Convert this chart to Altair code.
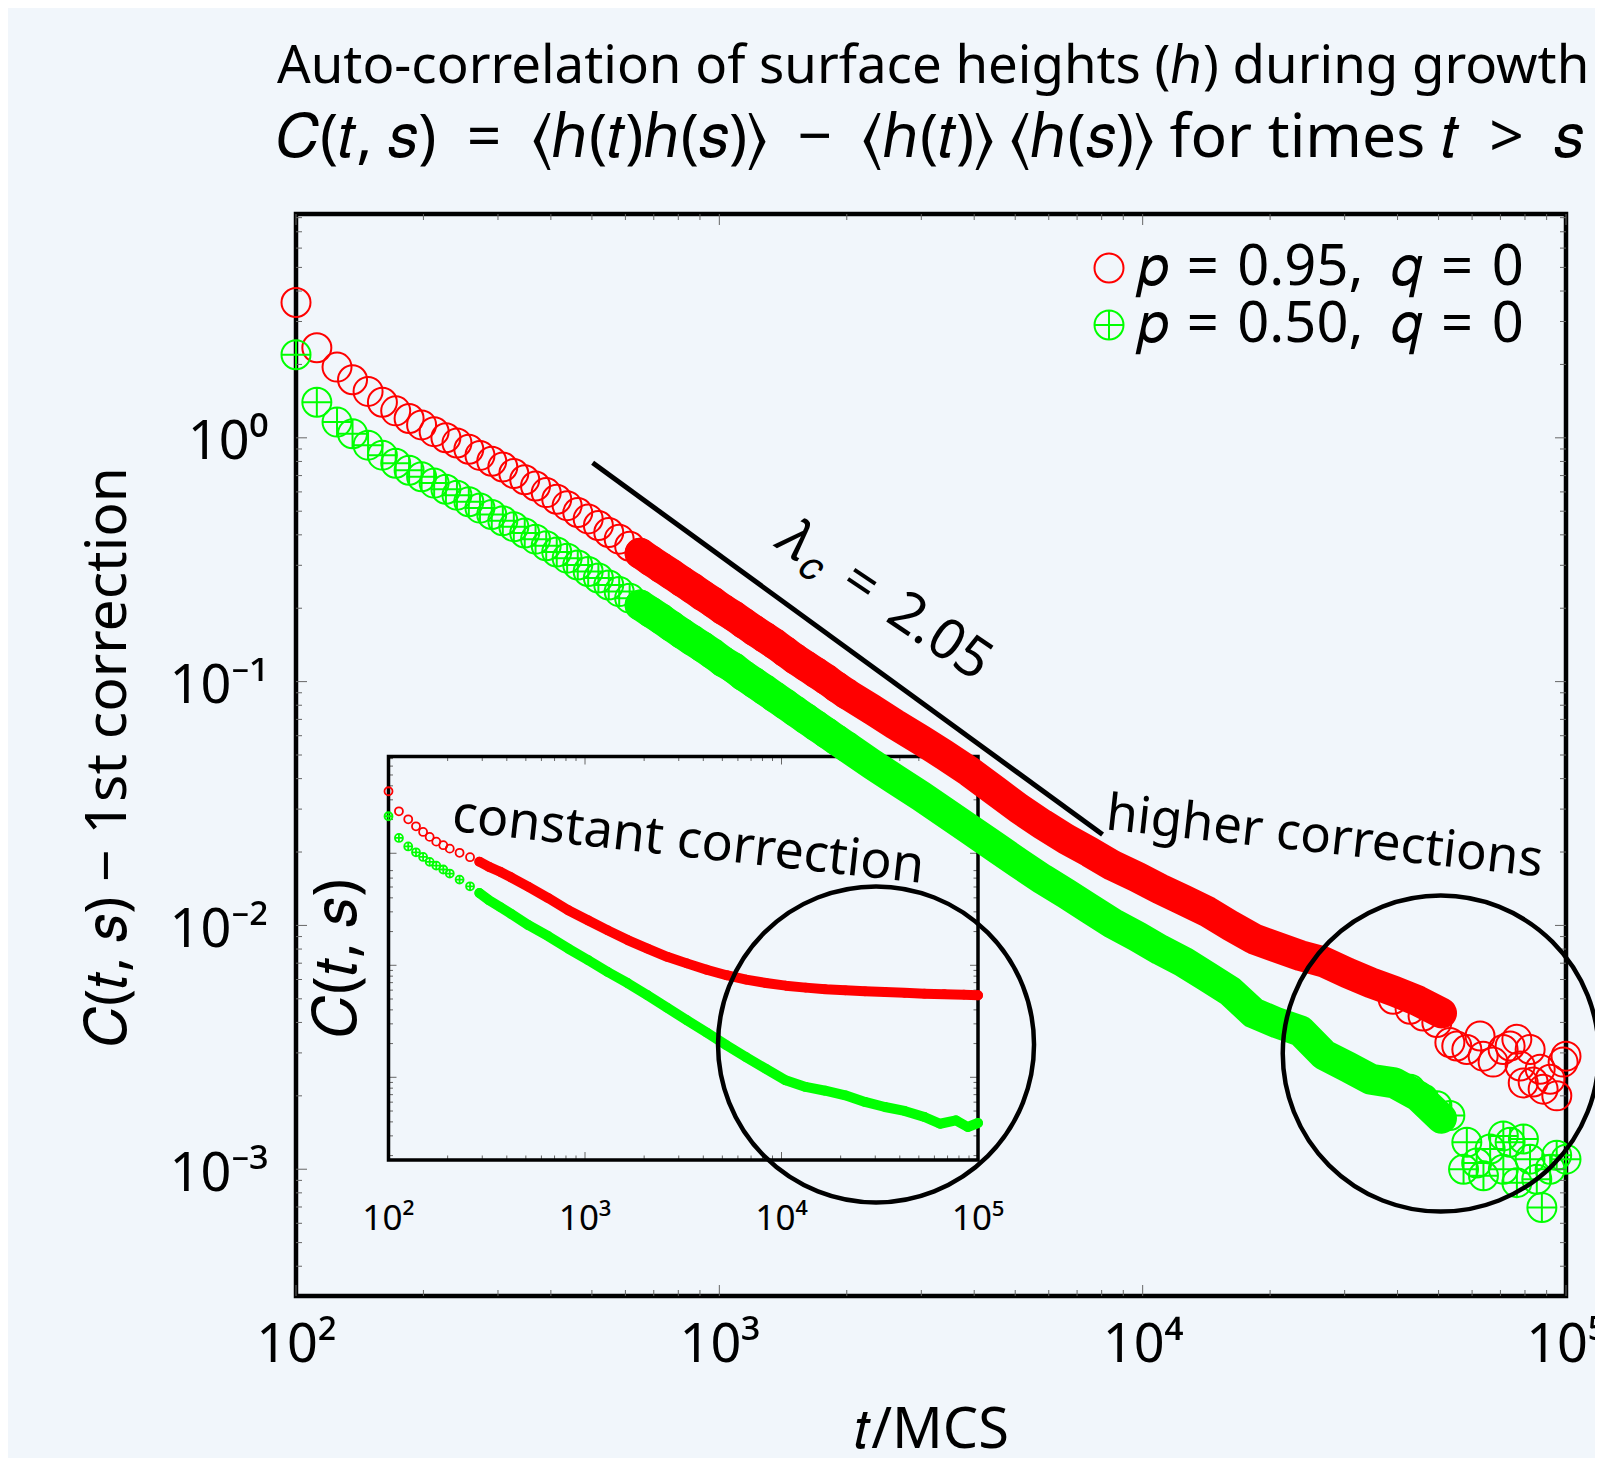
import altair as alt
import pandas as pd

# ---------------- values ----------------
# main panel: individually visible rings (t in MCS, C = C(t,s) - 1st correction)
t_ring = [100, 112, 125, 136, 148, 160, 172, 185, 198, 212, 226, 240, 256, 272, 290, 308, 327, 347, 368, 390,
          413, 437, 463, 490, 518, 548, 580, 614, 650, 688, 728, 770, 815, 862, 912, 965, 1020, 1080, 1140, 1210,
          1280, 1350, 1430, 1510, 1600, 1690, 1790, 1890, 2000]
red_ring = [3.59, 2.34, 1.95, 1.73, 1.55, 1.40, 1.29, 1.20, 1.13, 1.06, 1.00, 0.953, 0.898, 0.847, 0.802, 0.759,
            0.714, 0.673, 0.634, 0.596, 0.560, 0.527, 0.494, 0.465, 0.437, 0.409, 0.384, 0.359, 0.336, 0.314,
            0.294, 0.276, 0.258, 0.242, 0.226, 0.212, 0.198, 0.186, 0.174, 0.162, 0.152, 0.143, 0.133, 0.124,
            0.116, 0.109, 0.102, 0.0953, 0.0891]
green_ring = [2.19, 1.40, 1.16, 1.04, 0.933, 0.849, 0.787, 0.736, 0.692, 0.652, 0.615, 0.581, 0.547, 0.515, 0.485,
              0.457, 0.432, 0.407, 0.384, 0.361, 0.340, 0.321, 0.301, 0.283, 0.266, 0.249, 0.234, 0.220, 0.206,
              0.193, 0.181, 0.169, 0.158, 0.148, 0.139, 0.130, 0.121, 0.114, 0.106, 0.0989, 0.0925, 0.0867,
              0.0809, 0.0757, 0.0706, 0.0661, 0.0617, 0.0578, 0.0540]
# main panel: dense part where the markers merge into a solid band
t_band = [2000, 2300, 2600, 3000, 3400, 3900, 4500, 5100, 5800, 6600, 7500, 8500, 9700, 11000, 12500, 14200,
          16100, 18300, 20800, 23600, 26800, 30500, 34600, 39300, 44700, 50800]
red_band = [0.0891, 0.0767, 0.0668, 0.0575, 0.0501, 0.0427, 0.0355, 0.0302, 0.0260, 0.0226, 0.0200, 0.0176,
            0.0158, 0.0141, 0.0127, 0.0114, 0.0100, 0.00881, 0.00813, 0.00752, 0.00708, 0.00638, 0.00582,
            0.00537, 0.00490, 0.00437]
green_band = [0.0540, 0.0457, 0.0398, 0.0339, 0.0292, 0.0248, 0.0209, 0.0180, 0.0155, 0.0135, 0.0117, 0.0102,
              0.00902, 0.00794, 0.00708, 0.00617, 0.00537, 0.00437, 0.00398, 0.00369, 0.00295, 0.00263,
              0.00234, 0.00226, 0.00200, 0.00162]
# main panel: noisy tails
t_red_tail = [39050, 42830, 45960, 49530, 53170, 55210, 58310, 62660, 63720, 67270, 71030, 73790, 76540, 77930,
              79250, 82280, 83640, 86900, 88310, 91730, 95120, 98450, 100000]
red_tail = [0.00498, 0.00453, 0.00425, 0.00400, 0.00331, 0.00320, 0.00310, 0.00352, 0.00291, 0.00275, 0.00310,
            0.00320, 0.00341, 0.00265, 0.00226, 0.00310, 0.00228, 0.00257, 0.00213, 0.00234, 0.00200, 0.00275,
            0.00291]
t_green_tail = [42830, 46030, 49550, 53170, 57280, 58310, 61520, 63830, 66190, 71120, 71120, 73790, 76560, 79320,
                82220, 85310, 87700, 91730, 95060, 100000]
green_tail = [0.00213, 0.00194, 0.00182, 0.00166, 0.00100, 0.00129, 0.00106, 0.000940, 0.00121, 0.00100,
              0.00137, 0.00129, 0.000881, 0.00133, 0.00110, 0.000910, 0.000697, 0.00100, 0.00114, 0.00110]

# inset: raw C(t,s)
t_inset_red = [100, 113, 126, 138, 150, 162, 175, 190, 205, 230, 260, 290, 325, 370, 420, 516, 650, 822, 1040,
               1306, 1650, 2080, 2620, 3300, 4160, 5250, 6610, 8340, 10500, 13270, 16700, 21100, 26600, 33600,
               42300, 53400, 67300, 84800, 100000]
red_inset = [3.58, 2.37, 2.01, 1.74, 1.55, 1.40, 1.27, 1.18, 1.10, 1.01, 0.923, 0.841, 0.755, 0.684, 0.610,
             0.501, 0.398, 0.310, 0.251, 0.205, 0.168, 0.141, 0.119, 0.104, 0.0912, 0.0815, 0.0745, 0.0695,
             0.0658, 0.0632, 0.0612, 0.0598, 0.0586, 0.0578, 0.0568, 0.0558, 0.0552, 0.0547, 0.0540]
t_inset_green = [100, 113, 126, 138, 150, 162, 175, 190, 205, 230, 260, 290, 325, 370, 420, 516, 650, 822, 1040,
                 1306, 1650, 2080, 2620, 3300, 4160, 5250, 6610, 8340, 10500, 13270, 16700, 21100, 26600, 33600,
                 42300, 53400, 64100, 77200, 88700, 100000]
green_inset = [2.14, 1.37, 1.15, 1.02, 0.927, 0.838, 0.776, 0.716, 0.659, 0.582, 0.507, 0.442, 0.380, 0.331,
               0.288, 0.228, 0.182, 0.141, 0.111, 0.0871, 0.0692, 0.0540, 0.0417, 0.0323, 0.0251, 0.0193,
               0.0151, 0.0119, 0.00940, 0.00820, 0.00759, 0.00690, 0.00603, 0.00543, 0.00501, 0.00442,
               0.00385, 0.00413, 0.00360, 0.00391]

# guide line (slope lambda_c = 2.05) and the two highlight circles
guide_t = [502, 8040]
guide_C = [0.79, 0.0236]
circle_t = [2345, 50600]
circle_C = [0.00325, 0.00298]

# axes
x_major = [100, 1000, 10000, 100000]
x_minor = [200, 300, 400, 500, 600, 700, 800, 900, 2000, 3000, 4000, 5000, 6000, 7000, 8000, 9000,
           20000, 30000, 40000, 50000, 60000, 70000, 80000, 90000]
x_tick_labels = ["10²", "10³", "10⁴", "10⁵"]
y_major = [0.001, 0.01, 0.1, 1]
y_minor = [0.0004, 0.0005, 0.0006, 0.0007, 0.0008, 0.0009, 0.002, 0.003, 0.004, 0.005, 0.006, 0.007, 0.008,
           0.009, 0.02, 0.03, 0.04, 0.05, 0.06, 0.07, 0.08, 0.09, 0.2, 0.3, 0.4, 0.5, 0.6, 0.7, 0.8, 0.9,
           2, 3, 4, 5, 6, 7, 8]
inset_y_major = [0.01, 0.1, 1]
inset_y_minor = [0.002, 0.003, 0.004, 0.005, 0.006, 0.007, 0.008, 0.009, 0.02, 0.03, 0.04, 0.05, 0.06, 0.07,
                 0.08, 0.09, 0.2, 0.3, 0.4, 0.5, 0.6, 0.7, 2, 3, 4, 5, 6, 7]

S3 = "\u2004"   # three-per-em space (math-style spacing)
EN = "\u2002"   # en space
LABEL_RED = f"𝑝{S3}={S3}0.95,{EN}𝑞{S3}={S3}0"
LABEL_GREEN = f"𝑝{S3}={S3}0.50,{EN}𝑞{S3}={S3}0"
TITLE_1 = "Auto-correlation of surface heights (ℎ) during growth"
TITLE_2 = f"𝐶(𝑡, 𝑠){EN}={EN}⟨ℎ(𝑡)ℎ(𝑠)⟩{EN}−{EN}⟨ℎ(𝑡)⟩ ⟨ℎ(𝑠)⟩ for times 𝑡{EN}>{EN}𝑠"

# ---------------- styling ----------------
BG = "#f1f6fb"
RED = "#ff0000"
GREEN = "#00ff00"
TICK = "#666666"
FONT = "Noto Sans"
OPLUS = "M1,0A1,1,0,1,1,-1,0A1,1,0,1,1,1,0ZM-1,0L1,0M0,-1L0,1"
W, H = 1270, 1082

MX = [100, 100000]
MY = [3.02e-4, 8.28]
IX = [100, 100000]
IY = [1.827e-3, 7.31]

MAIN_X = alt.Scale(type="log", domain=MX, nice=False)
MAIN_Y = alt.Scale(type="log", domain=MY, nice=False)
IN_X = alt.Scale(type="log", domain=IX, nice=False, range=[92.5, 682])
IN_Y = alt.Scale(type="log", domain=IY, nice=False, range=[946, 542.5])

x_expr = "datum.value == 100 ? '10²' : datum.value == 1000 ? '10³' : datum.value == 10000 ? '10⁴' : '10⁵'"
y_expr = "datum.value == 1 ? '10⁰' : datum.value == 0.1 ? '10⁻¹' : datum.value == 0.01 ? '10⁻²' : '10⁻³'"

AX_X = alt.Axis(orient="bottom", values=x_major, labelExpr=x_expr, ticks=False, tickSize=0, domain=False,
                grid=False, labelFont=FONT, labelFontSize=54, labelColor="black", labelPadding=65,
                labelBaseline="alphabetic", labelFlush=False, labelOverlap=False, labelBound=False,
                title="𝑡/MCS", titleFont=FONT, titleFontSize=56, titleFontWeight="normal", titleColor="black",
                titleX=635, titleY=151, titleAlign="center", titleBaseline="alphabetic")
AX_Y = alt.Axis(orient="left", values=y_major, labelExpr=y_expr, ticks=False, tickSize=0, domain=False,
                grid=False, labelFont=FONT, labelFontSize=54, labelColor="black", labelPadding=28,
                labelOffset=5, labelBaseline="middle", labelAlign="right", labelFlush=False,
                labelOverlap=False,
                title="𝐶(𝑡, 𝑠) − 1st correction", titleFont=FONT, titleFontSize=57, titleFontWeight="normal",
                titleColor="black", titleAngle=270, titleX=-171, titleY=542, titleAlign="center",
                titleBaseline="alphabetic")

LEG = alt.Legend(title=None, orient="none", legendX=785, legendY=26, labelFont=FONT, labelFontSize=56,
                 labelColor="black", labelOffset=0, labelLimit=0, symbolSize=841,
                 symbolStrokeWidth=2, padding=0, rowPadding=1)


def xm(f):
    return alt.X(f, type="quantitative", scale=MAIN_X, axis=AX_X)


def ym(f):
    return alt.Y(f, type="quantitative", scale=MAIN_Y, axis=AX_Y)


def xi(f):
    return alt.X(f, type="quantitative", scale=IN_X, axis=None)


def yi(f):
    return alt.Y(f, type="quantitative", scale=IN_Y, axis=None)


def tick_layers(xvals, yvals, L, X, Y, xd, yd):
    dfx = pd.DataFrame({"v": xvals, "lo": yd[0], "hi": yd[1]})
    dfy = pd.DataFrame({"v": yvals, "lo": xd[0], "hi": xd[1]})
    m = dict(color=TICK, strokeWidth=1)
    return [
        alt.Chart(dfx).mark_rule(y2Offset=-L, **m).encode(x=X("v"), y=Y("lo"), y2=alt.Y2("lo")),
        alt.Chart(dfx).mark_rule(y2Offset=L, **m).encode(x=X("v"), y=Y("hi"), y2=alt.Y2("hi")),
        alt.Chart(dfy).mark_rule(x2Offset=L, **m).encode(y=Y("v"), x=X("lo"), x2=alt.X2("lo")),
        alt.Chart(dfy).mark_rule(x2Offset=-L, **m).encode(y=Y("v"), x=X("hi"), x2=alt.X2("hi")),
    ]


ONE = pd.DataFrame({"a": [0]})

# ---------------- inset ----------------
in_red = pd.DataFrame({"t": t_inset_red, "C": red_inset})
in_green = pd.DataFrame({"t": t_inset_green, "C": green_inset})
in_frame = pd.DataFrame({"x1": [IX[0]], "x2": [IX[1]], "y1": [IY[0]], "y2": [IY[1]]})
in_labels = pd.DataFrame({"v": x_major, "lab": x_tick_labels, "lo": IY[0]})

inset_layers = tick_layers(x_major, inset_y_major, 8, xi, yi, IX, IY) + \
    tick_layers(x_minor, inset_y_minor, 4.5, xi, yi, IX, IY) + [
    alt.Chart(in_frame).mark_rect(fillOpacity=0, stroke="black", strokeWidth=3.5).encode(
        x=xi("x1"), x2="x2", y=yi("y1"), y2="y2"),
    alt.Chart(in_red).transform_filter("datum.t >= 290").mark_line(
        color=RED, strokeWidth=10, strokeCap="round", strokeJoin="round").encode(x=xi("t"), y=yi("C")),
    alt.Chart(in_green).transform_filter("datum.t >= 290").mark_line(
        color=GREEN, strokeWidth=10, strokeCap="round", strokeJoin="round").encode(x=xi("t"), y=yi("C")),
    alt.Chart(in_red).mark_point(shape="circle", filled=False, size=64, strokeWidth=1.8, color=RED,
                                 opacity=1).encode(x=xi("t"), y=yi("C")),
    alt.Chart(in_green).mark_point(shape=OPLUS, filled=False, size=64, strokeWidth=1.8, color=GREEN,
                                   opacity=1).encode(x=xi("t"), y=yi("C")),
    alt.Chart(in_labels).mark_text(font=FONT, fontSize=35, baseline="alphabetic", align="center", dy=70,
                                   color="black").encode(x=xi("v"), y=yi("lo"), text="lab:N"),
    alt.Chart(ONE).mark_text(text="𝐶(𝑡, 𝑠)", font=FONT, fontSize=60, angle=270, align="center",
                             baseline="alphabetic", color="black").encode(x=alt.value(60), y=alt.value(744)),
]
inset = alt.layer(*inset_layers)

# ---------------- main panel ----------------
rings_df = pd.concat([
    pd.DataFrame({"t": t_ring, "C": red_ring, "series": LABEL_RED}),
    pd.DataFrame({"t": t_red_tail, "C": red_tail, "series": LABEL_RED}),
    pd.DataFrame({"t": t_ring, "C": green_ring, "series": LABEL_GREEN}),
    pd.DataFrame({"t": t_green_tail, "C": green_tail, "series": LABEL_GREEN}),
], ignore_index=True)
rings_df["k"] = range(len(rings_df))

band_red = pd.concat([pd.DataFrame({"t": t_ring, "C": red_ring}).query("t >= 650"),
                      pd.DataFrame({"t": t_band, "C": red_band})], ignore_index=True)
band_green = pd.concat([pd.DataFrame({"t": t_ring, "C": green_ring}).query("t >= 650"),
                        pd.DataFrame({"t": t_band, "C": green_band})], ignore_index=True)
guide = pd.DataFrame({"t": guide_t, "C": guide_C})
circles = pd.DataFrame({"t": circle_t, "C": circle_C})

rings = alt.Chart(rings_df).mark_point(filled=False, size=841, strokeWidth=2, opacity=1).encode(
    x=xm("t"),
    y=ym("C"),
    color=alt.Color("series:N", scale=alt.Scale(domain=[LABEL_RED, LABEL_GREEN], range=[RED, GREEN]),
                    legend=LEG),
    shape=alt.Shape("series:N", scale=alt.Scale(domain=[LABEL_RED, LABEL_GREEN], range=["circle", OPLUS]),
                    legend=LEG),
    order=alt.Order("k:Q"),
)


def band(df, color):
    return alt.Chart(df).mark_line(color=color, strokeWidth=31, strokeCap="round", strokeJoin="round").encode(
        x=xm("t"), y=ym("C"))


def anchored_text(s, t, c, size, angle, align, baseline, dx=0, dy=0):
    return alt.Chart(pd.DataFrame({"t": [t], "C": [c]})).mark_text(
        text=s, font=FONT, fontSize=size, angle=angle, align=align, baseline=baseline, dx=dx, dy=dy,
        color="black").encode(x=xm("t"), y=ym("C"))


def free_text(s, x, y, size):
    return alt.Chart(ONE).mark_text(text=s, font=FONT, fontSize=size, align="left", baseline="alphabetic",
                                    color="black").encode(x=alt.value(x), y=alt.value(y))


LAM_T, LAM_C = 1302, 0.3745

main_layers = [
    rings,
    band(band_red, RED),
    band(band_green, GREEN),
] + tick_layers(x_major, y_major, 11, xm, ym, MX, MY) + \
    tick_layers(x_minor, y_minor, 6, xm, ym, MX, MY) + [
    alt.Chart(guide).mark_line(color="black", strokeWidth=5).encode(x=xm("t"), y=ym("C")),
    alt.Chart(circles).mark_point(shape="circle", filled=False, size=99856, strokeWidth=4.5, color="black",
                                  opacity=1).encode(x=xm("t"), y=ym("C")),
    anchored_text("𝜆", LAM_T, LAM_C, 56, 34, "left", "alphabetic", dx=5),
    anchored_text("𝑐", LAM_T, LAM_C, 40, 34, "left", "alphabetic", dx=41, dy=9),
    anchored_text("=", LAM_T, LAM_C, 56, 34, "left", "alphabetic", dx=84),
    anchored_text("2.05", LAM_T, LAM_C, 56, 34, "left", "alphabetic", dx=140),
    anchored_text("constant correction", 844, 0.0222, 52, 6.3, "center", "middle"),
    anchored_text("higher corrections", 26880, 0.02284, 51, 6.2, "center", "middle"),
    free_text(TITLE_1, -19, -130.7, 52.8),
    free_text(TITLE_2, -19, -57.3, 60.6),
]
main = alt.layer(*main_layers)

chart = alt.layer(inset, main).resolve_scale(x="independent", y="independent").properties(
    width=W, height=H,
    padding={"left": 288, "top": 206, "right": 29, "bottom": 162},
    autosize=alt.AutoSizeParams(type="none"),
    background=BG,
).configure_view(stroke="black", strokeWidth=4.5)

chart.save("out.html", embed_options={"renderer": "svg", "actions": False})
